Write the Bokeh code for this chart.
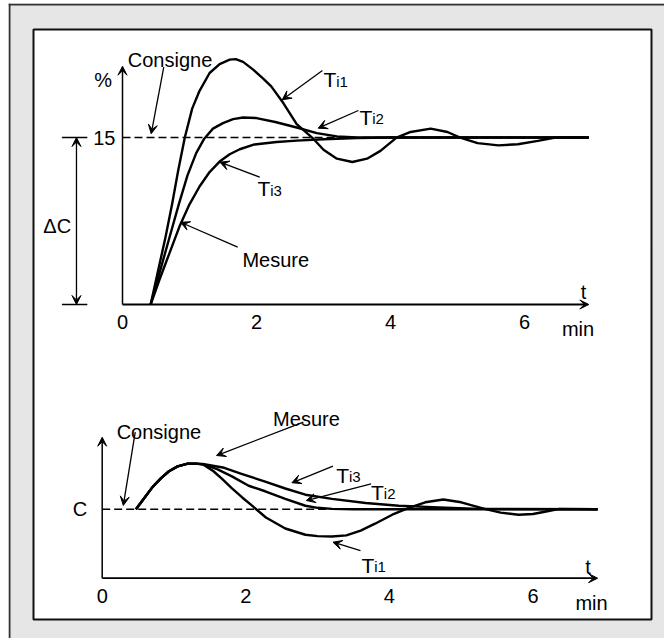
from bokeh.plotting import figure
from bokeh.models import Range1d, LinearAxis, FixedTicker, Arrow, VeeHead, Label, BoxAnnotation, Span
from bokeh.embed import file_html
from bokeh.resources import INLINE

FONT = "Liberation Sans"
BIG = "20px"
TSIZE = "21px"
SUB = "15px"

# ---------------- data ----------------
tick_t = [0, 2, 4, 6]
top_setpoint = 15
bot_setpoint = 10
top_t_end = 6.96
bot_t_end = 6.9

# upper chart: response to a setpoint step (value in %)
top_t_ti1 = [0.42, 0.53, 0.64, 0.74, 0.83, 0.93, 1.04, 1.15, 1.3, 1.45, 1.6, 1.69,
             1.8, 1.95, 2.1, 2.22, 2.4, 2.6, 2.83, 3.0, 3.2, 3.43, 3.65, 3.85,
             4.09, 4.3, 4.6, 4.85, 5.04, 5.3, 5.61, 5.9, 6.2, 6.46, 6.96]
top_v_ti1 = [0, 3, 6, 9, 12, 15, 17.6, 19.2, 20.8, 21.6, 22.0, 22.05,
             21.8, 21.1, 20.3, 19.6, 18.1, 16.2, 15.0, 13.9, 13.1, 12.8, 13.1, 13.8,
             15.0, 15.5, 15.8, 15.5, 15.0, 14.5, 14.3, 14.4, 14.7, 15.0, 15.0]

top_t_ti2 = [0.42, 0.56, 0.7, 0.84, 0.97, 1.1, 1.22, 1.35, 1.5, 1.65, 1.8, 2.0,
             2.28, 2.6, 2.9, 3.2, 3.5, 6.96]
top_v_ti2 = [0, 3, 6, 9, 11.6, 13.6, 14.9, 15.8, 16.3, 16.65, 16.8, 16.75,
             16.4, 15.9, 15.4, 15.1, 15.0, 15.0]

top_t_ti3 = [0.42, 0.55, 0.7, 0.85, 1.0, 1.15, 1.3, 1.46, 1.6, 1.75, 1.97, 2.3,
             2.6, 3.0, 3.5, 4.0, 6.96]
top_v_ti3 = [0, 2.2, 4.6, 7.0, 9.0, 10.6, 11.9, 12.9, 13.5, 13.95, 14.38, 14.6,
             14.72, 14.85, 14.95, 15.0, 15.0]

# lower chart: response to a disturbance (C = setpoint)
bot_t_ti1 = [0.47, 0.6, 0.7, 0.82, 0.93, 1.05, 1.18, 1.3, 1.4,
             1.55, 1.67, 1.8, 1.95, 2.1, 2.28, 2.55, 2.83, 3.0, 3.2, 3.4, 3.6,
             3.8, 4.04, 4.27, 4.5, 4.75, 5.0, 5.2, 5.34, 5.55, 5.8, 6.0, 6.2,
             6.37, 6.9]
bot_v_ti1 = [10.0, 11.8, 13.2, 14.5, 15.5, 16.2, 16.58, 16.6, 16.5,
             15.5, 14.4, 13.1, 11.7, 10.4, 8.8, 7.2, 6.3, 6.1, 6.04, 6.2, 6.9,
             7.9, 9.2, 10.2, 11.0, 11.4, 11.0, 10.4, 10.0, 9.5, 9.2, 9.3, 9.7,
             10.05, 10.0]

bot_t_ti2 = [0.47, 0.6, 0.7, 0.82, 0.93, 1.05, 1.18, 1.3, 1.4,
             1.6, 1.8, 2.04, 2.27, 2.55, 2.83, 3.0, 3.2, 3.5, 6.9]
bot_v_ti2 = [10.0, 11.8, 13.2, 14.5, 15.5, 16.2, 16.58, 16.6, 16.5,
             15.8, 14.8, 13.4, 12.6, 11.5, 10.5, 10.2, 10.05, 10.0, 10.0]

bot_t_ti3 = [0.47, 0.6, 0.7, 0.82, 0.93, 1.05, 1.18, 1.3, 1.4,
             1.7, 1.95, 2.27, 2.55, 2.83, 3.2, 3.67, 4.13, 4.6, 5.25, 6.9]
bot_v_ti3 = [10.0, 11.8, 13.2, 14.5, 15.5, 16.2, 16.58, 16.6, 16.55,
             16.0, 15.1, 14.0, 13.0, 12.1, 11.5, 10.9, 10.5, 10.3, 10.05, 10.0]

# ---------------- figure ----------------
p = figure(width=664, height=638, output_backend="svg", toolbar_location=None,
           title=None, x_axis_location=None, y_axis_location=None,
           x_range=Range1d(-1.7015, 8.0896), y_range=Range1d(-30.009, 27.044),
           min_border_left=8, min_border_right=0, min_border_top=3, min_border_bottom=0)
p.extra_x_ranges = {"bx": Range1d(-1.305, 7.8315)}
p.extra_y_ranges = {"by": Range1d(-8.739, 83.29)}
p.background_fill_color = "#e6e6e6"
p.border_fill_color = "white"
p.outline_line_color = None
for g in p.grid:
    g.visible = False

B = dict(x_range_name="bx", y_range_name="by")

# outer panel border (left / top) and inner white panel
p.add_layout(Span(location=-1.6866, dimension="height", line_color="#333333",
                  line_width=2, level="underlay"))
p.add_layout(Span(location=26.954, dimension="width", line_color="#333333",
                  line_width=2, level="underlay"))
p.add_layout(BoxAnnotation(left=-1.3284, right=7.8955, top=24.708, bottom=-28.302,
                           fill_color="white", fill_alpha=1, line_color="#111111",
                           line_width=2, line_alpha=1, level="underlay"))


def axis(ticks, standoff, overrides=None, **kw):
    ax = LinearAxis(ticker=FixedTicker(ticks=ticks), fixed_location=0, **kw)
    ax.axis_line_color = None
    ax.major_tick_line_color = None
    ax.minor_tick_line_color = None
    ax.major_tick_in = 0
    ax.major_tick_out = 0
    ax.major_label_text_font = FONT
    ax.major_label_text_font_size = BIG
    ax.major_label_text_color = "black"
    ax.major_label_standoff = standoff
    if overrides:
        ax.major_label_overrides = overrides
    return ax


p.add_layout(axis(tick_t, 11), "below")
p.add_layout(axis([top_setpoint], 7), "left")
p.add_layout(axis(tick_t, 11, **B), "below")
p.add_layout(axis([bot_setpoint], 15, {bot_setpoint: "C"}, **B), "left")


def arrow(x0, y0, x1, y1, width=1.3, both=False, size=9, **kw):
    head = lambda: VeeHead(size=size, line_color="black", fill_color="black", line_width=1)
    p.add_layout(Arrow(x_start=x0, y_start=y0, x_end=x1, y_end=y1,
                       start=head() if both else None, end=head(),
                       line_color="black", line_width=width, **kw))


def lab(x, y, text, size=BIG, align="left", **kw):
    p.add_layout(Label(x=x, y=y, text=text, text_font=FONT, text_font_size=size,
                       text_align=align, text_baseline="alphabetic", text_color="black", **kw))


# ---- upper chart ----
p.line([0, top_t_end], [top_setpoint, top_setpoint], line_color="black",
       line_width=1.5, line_dash="8 4")
for tt, vv in ((top_t_ti1, top_v_ti1), (top_t_ti2, top_v_ti2), (top_t_ti3, top_v_ti3)):
    p.line(tt, vv, line_color="black", line_width=2.4, line_join="round")

arrow(0, 0, 0, 21.41, width=1.5)
arrow(0, 0, top_t_end, 0, width=1.8)
# delta C dimension
p.segment([-0.904, -0.904], [0, top_setpoint], [-0.525, -0.525], [0, top_setpoint],
          line_color="black", line_width=1.5)
arrow(-0.687, 0, -0.687, top_setpoint, width=1.3, both=True)
lab(-0.975, 7.01, "ΔC", align="center")
lab(-0.288, 20.13, "%", align="center")
lab(0.709, 21.99, "Consigne", align="center")
arrow(0.616, 21.32, 0.428, 15.34)
lab(3.0, 20.19, "T", size=TSIZE)
lab(3.19, 20.05, "i1", size=SUB)
arrow(2.984, 21.02, 2.384, 18.39)
lab(3.537, 16.83, "T", size=TSIZE)
lab(3.727, 16.69, "i2", size=SUB)
arrow(3.521, 17.43, 2.921, 15.84)
lab(2.015, 10.40, "T", size=TSIZE)
lab(2.205, 10.26, "i3", size=SUB)
arrow(2.048, 11.44, 1.454, 12.79)
lab(2.288, 4.016, "Mesure", align="center")
arrow(1.719, 5.148, 0.866, 7.39)
lab(6.88, 1.105, "t", align="center")
lab(6.799, -2.18, "min", align="center")

# ---- lower chart ----
p.line([0, bot_t_end], [bot_setpoint, bot_setpoint], line_color="black",
       line_width=1.5, line_dash="8 4", **B)
for tt, vv in ((bot_t_ti1, bot_v_ti1), (bot_t_ti2, bot_v_ti2), (bot_t_ti3, bot_v_ti3)):
    p.line(tt, vv, line_color="black", line_width=2.4, line_join="round", **B)

arrow(0, 0, 0, 20.43, width=1.5, **B)
arrow(0, 0, bot_t_end, 0, width=1.8, **B)
lab(0.79, 21.26, "Consigne", align="center", **B)
arrow(0.46, 21.16, 0.294, 10.54, **B)
lab(2.845, 23.1, "Mesure", align="center", **B)
arrow(2.801, 22.61, 1.592, 17.78, **B)
lab(3.259, 14.88, "T", size=TSIZE, **B)
lab(3.437, 14.70, "i3", size=SUB, **B)
arrow(3.214, 16.23, 2.642, 13.83, **B)
lab(3.744, 12.46, "T", size=TSIZE, **B)
lab(3.922, 12.28, "i2", size=SUB, **B)
arrow(3.745, 13.68, 2.843, 11.26, **B)
lab(3.611, 1.84, "T", size=TSIZE, **B)
lab(3.789, 1.66, "i1", size=SUB, **B)
arrow(3.597, 4.01, 3.214, 5.22, **B)
lab(6.767, 1.59, "t", align="center", **B)
lab(6.815, -3.62, "min", align="center", **B)

open("out.html", "w").write(file_html(p, INLINE))
